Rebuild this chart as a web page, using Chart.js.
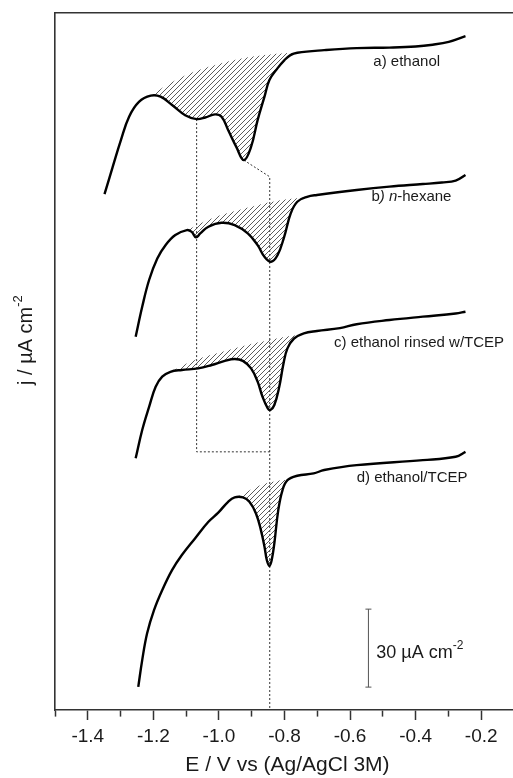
<!DOCTYPE html>
<html>
<head>
<meta charset="utf-8">
<script src="https://cdn.jsdelivr.net/npm/chart.js@4.4.1/dist/chart.umd.min.js"></script>
<style>
html, body { margin: 0; padding: 0; background: #fff; overflow: hidden; }
</style>
</head>
<body>
<canvas id="cvChart" width="519" height="778"></canvas>
<script>
// E (V vs Ag/AgCl) , j (uA cm-2, curves offset for display)
const curveA = [[-1.349,198.8],[-1.324,209.3],[-1.299,219.6],[-1.274,228.6],[-1.244,234.3],[-1.208,236.7],[-1.178,236.3],[-1.143,233.1],[-1.103,229.2],[-1.068,227.7],[-1.042,228.3],[-1.012,229.5],[-0.992,228.6],[-0.972,223.5],[-0.947,217.0],[-0.924,211.9],[-0.902,217.0],[-0.882,227.3],[-0.861,236.3],[-0.846,242.7],[-0.821,247.3],[-0.800,250.4],[-0.782,252.3],[-0.761,253.2],[-0.679,254.2],[-0.580,255.0],[-0.480,255.2],[-0.400,255.6],[-0.348,256.3],[-0.299,257.4],[-0.248,259.6]];
const curveB = [[-1.254,144.0],[-1.234,155.5],[-1.213,165.8],[-1.188,174.1],[-1.163,179.2],[-1.133,183.1],[-1.098,185.0],[-1.083,184.3],[-1.070,182.2],[-1.057,183.7],[-1.032,186.3],[-0.992,187.8],[-0.952,186.9],[-0.912,183.7],[-0.882,179.2],[-0.861,174.7],[-0.841,172.8],[-0.821,175.4],[-0.801,182.4],[-0.781,191.4],[-0.761,195.9],[-0.731,197.8],[-0.701,198.5],[-0.580,200.4],[-0.480,201.7],[-0.378,202.7],[-0.320,203.3],[-0.278,204.0],[-0.248,206.2]];
const curveC = [[-1.254,97.2],[-1.234,108.1],[-1.213,117.0],[-1.193,124.7],[-1.173,128.6],[-1.148,130.5],[-1.113,131.2],[-1.063,131.8],[-1.022,133.1],[-0.982,134.7],[-0.952,135.4],[-0.927,134.7],[-0.902,131.8],[-0.882,126.7],[-0.867,120.9],[-0.851,116.4],[-0.843,115.8],[-0.831,117.7],[-0.816,124.7],[-0.803,133.7],[-0.791,139.5],[-0.771,143.3],[-0.741,145.3],[-0.701,146.2],[-0.631,147.3],[-0.580,148.8],[-0.480,150.4],[-0.378,151.7],[-0.278,152.9],[-0.248,153.6]];
const curveD = [[-1.246,9.3],[-1.234,19.6],[-1.219,29.9],[-1.198,38.8],[-1.173,46.5],[-1.143,54.2],[-1.113,60.0],[-1.073,66.4],[-1.032,72.8],[-1.002,76.3],[-0.972,80.5],[-0.952,82.2],[-0.927,82.2],[-0.907,80.5],[-0.887,76.0],[-0.872,69.6],[-0.861,63.2],[-0.854,58.1],[-0.846,55.8],[-0.839,58.1],[-0.831,64.5],[-0.819,77.3],[-0.806,85.0],[-0.791,88.8],[-0.761,90.5],[-0.711,91.4],[-0.679,92.7],[-0.580,94.6],[-0.378,96.5],[-0.278,97.8],[-0.248,99.7]];

// upper edge of the hatched (desorption) areas
const baseA = [[-1.208,236.7],[-1.153,241.2],[-1.084,245.5],[-1.011,248.5],[-0.942,250.7],[-0.860,252.3],[-0.800,253.0],[-0.761,253.2]];
const baseB = [[-1.098,185.0],[-1.022,189.5],[-0.922,193.3],[-0.821,196.3],[-0.735,197.6]];
const baseC = [[-1.148,130.5],[-1.073,135.0],[-0.972,138.8],[-0.872,142.0],[-0.800,143.9],[-0.752,144.6]];
const baseD = [[-0.945,82.3],[-0.872,86.9],[-0.820,88.6],[-0.788,89.0]];

// dotted guide lines
const guideLeft = [[-1.068,227.7],[-1.068,99.7],[-0.844,99.7]];
const guideRight = [[-0.924,211.9],[-0.845,205.5],[-0.845,0.4]];

// 30 uA cm-2 scale bar
const scaleBarE = -0.544;
const scaleBarJ = [9.2, 39.2];

const curveLabels = ['a) ethanol', 'b) n-hexane', 'c) ethanol rinsed w/TCEP', 'd) ethanol/TCEP'];

const FONT = "'Liberation Sans', Arial, sans-serif";
Chart.defaults.font.family = FONT;

const xy = arr => arr.map(p => ({ x: p[0], y: p[1] }));

function makeHatch() {
    const c = document.createElement('canvas');
    c.width = 5; c.height = 5;
    const g = c.getContext('2d');
    g.strokeStyle = '#4a4a4a';
    g.lineWidth = 0.9;
    g.beginPath();
    g.moveTo(0, 5); g.lineTo(5, 0);
    g.moveTo(-1, 1); g.lineTo(1, -1);
    g.moveTo(4, 6); g.lineTo(6, 4);
    g.stroke();
    return g.createPattern(c, 'repeat');
}
const hatch = makeHatch();

const curve = (data) => ({
    data: xy(data), borderColor: '#000', borderWidth: 2.4, tension: 0.4,
    pointRadius: 0, fill: false
});
const shade = (data, target) => ({
    data: xy(data), borderColor: 'rgba(0,0,0,0)', borderWidth: 0, tension: 0.4,
    pointRadius: 0, fill: { target: target }, backgroundColor: hatch
});
const guide = (data) => ({
    data: xy(data), borderColor: '#333', borderWidth: 1, borderDash: [2, 2],
    tension: 0, pointRadius: 0, fill: false
});

function drawRuns(ctx, parts, x, y) {
    for (const p of parts) {
        ctx.font = p.font;
        ctx.fillText(p.text, x, y + (p.dy || 0));
        x += ctx.measureText(p.text).width;
    }
    return x;
}

const textLayer = {
    id: 'textLayer',
    afterDraw(chart) {
        const { ctx, chartArea } = chart;
        const sx = chart.scales.x, sy = chart.scales.y;
        ctx.save();
        ctx.fillStyle = '#1a1a1a';
        ctx.textBaseline = 'middle';
        ctx.textAlign = 'left';
        const f15 = '15px ' + FONT, i15 = 'italic 15px ' + FONT;

        drawRuns(ctx, [{ text: curveLabels[0], font: f15 }], sx.getPixelForValue(-0.529), sy.getPixelForValue(249.6));
        drawRuns(ctx, [{ text: 'b', font: f15 }, { text: ') n', font: i15 }, { text: '-hexane', font: f15 }],
            sx.getPixelForValue(-0.535), sy.getPixelForValue(197.7));
        drawRuns(ctx, [{ text: curveLabels[2], font: f15 }], sx.getPixelForValue(-0.649), sy.getPixelForValue(141.5));
        drawRuns(ctx, [{ text: curveLabels[3], font: f15 }], sx.getPixelForValue(-0.580), sy.getPixelForValue(89.6));

        // scale bar text
        drawRuns(ctx, [{ text: '30 \u00b5A cm', font: '18px ' + FONT }, { text: '-2', font: '12px ' + FONT, dy: -7 }],
            sx.getPixelForValue(-0.520), sy.getPixelForValue(22.3));

        // axis titles
        ctx.textAlign = 'center';
        ctx.font = '21px ' + FONT;
        ctx.fillText('E / V vs (Ag/AgCl 3M)', sx.getPixelForValue(-0.791), chartArea.bottom + 55);

        ctx.translate(chartArea.left - 29, sy.getPixelForValue(142.7));
        ctx.rotate(-Math.PI / 2);
        ctx.textAlign = 'left';
        ctx.font = '20px ' + FONT;
        const w1 = ctx.measureText('j / \u00b5A cm').width;
        ctx.font = '13px ' + FONT;
        const w2 = ctx.measureText('-2').width;
        drawRuns(ctx, [{ text: 'j / \u00b5A cm', font: '20px ' + FONT }, { text: '-2', font: '13px ' + FONT, dy: -8 }],
            -(w1 + w2) / 2, 0);
        ctx.restore();
    }
};

const isMajor = v => Math.round(v * 10) % 2 === 0;

const ctx = document.getElementById('cvChart').getContext('2d');
const cvChart = new Chart(ctx, {
    type: 'line',
    data: {
        datasets: [
            curve(curveA), curve(curveB), curve(curveC), curve(curveD),
            shade(baseA, 0), shade(baseB, 1), shade(baseC, 2), shade(baseD, 3),
            guide(guideLeft), guide(guideRight),
            {
                data: scaleBarJ.map(j => ({ x: scaleBarE, y: j })),
                borderColor: '#555', borderWidth: 1, pointStyle: 'line', pointRadius: 3,
                pointBorderColor: '#555', pointBorderWidth: 1, fill: false
            }
        ]
    },
    options: {
        responsive: false,
        animation: false,
        layout: { padding: { top: 13, left: 0, right: 0, bottom: 0 } },
        plugins: { legend: { display: false }, tooltip: { enabled: false } },
        scales: {
            x: {
                type: 'linear', position: 'bottom', min: -1.5, max: -0.1,
                afterFit: s => { s.height = 68; },
                border: { color: '#333', width: 1.6 },
                grid: {
                    display: true, drawOnChartArea: false, drawTicks: true,
                    tickLength: 10, tickColor: '#333', tickWidth: 1.5,
                    tickBorderDash: c => (c.tick && isMajor(c.tick.value)) ? [] : [6, 20]
                },
                ticks: {
                    stepSize: 0.1, autoSkip: false, maxRotation: 0, minRotation: 0,
                    padding: 5, color: '#1a1a1a', font: { size: 19 },
                    callback: v => (isMajor(v) && v > -1.45 && v < -0.15) ? v.toFixed(1) : ''
                }
            },
            xTop: {
                type: 'linear', position: 'top', axis: 'x',
                afterFit: s => { s.height = 0; },
                border: { color: '#333', width: 1.6 },
                grid: { display: false }, ticks: { display: false }
            },
            y: {
                type: 'linear', min: 0.4, max: 268.5,
                afterFit: s => { s.width = 55; },
                border: { color: '#333', width: 1.6 },
                grid: { display: false }, ticks: { display: false }
            }
        }
    },
    plugins: [textLayer]
});
</script>
</body>
</html>
